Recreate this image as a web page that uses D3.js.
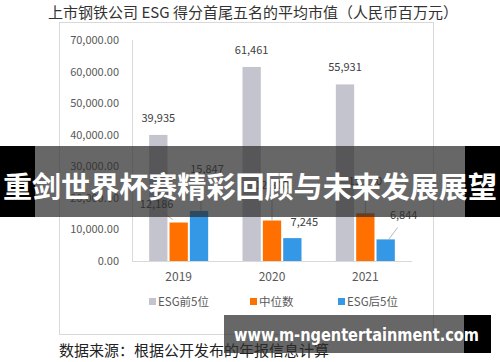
<!DOCTYPE html>
<html>
<head>
<meta charset="utf-8">
<script src="https://cdn.jsdelivr.net/npm/d3@7/dist/d3.min.js"></script>
<style>
  body { margin: 0; background: #fff; }
  text { font-family: "Noto Sans CJK SC", "Noto Sans", sans-serif; }
</style>
</head>
<body>
<div class="vis"></div>
<script>
const years = ["2019", "2020", "2021"];
const seriesNames = ["ESG前5位", "中位数", "ESG后5位"];
const top5 = [39935, 61461, 55931];
const median = [12186, 12818, 15120];
const bottom5 = [15847, 7245, 6844];
const yTicks = [0, 10000, 20000, 30000, 40000, 50000, 60000, 70000];
const colors = ["#c4c4cf", "#ff7000", "#3498e6"];

const width = 500;
const height = 362;
const svg = d3.select(".vis").append("svg")
  .attr("width", width)
  .attr("height", height);

// title
svg.append("text")
  .attr("x", 253).attr("y", 18)
  .attr("text-anchor", "middle")
  .attr("font-size", 15)
  .attr("fill", "#333")
  .text("上市钢铁公司 ESG 得分首尾五名的平均市值（人民币百万元）");

// chart frame
svg.append("rect")
  .attr("x", 59.5).attr("y", 22.5)
  .attr("width", 374).attr("height", 312)
  .attr("fill", "none")
  .attr("stroke", "#d9d9d9");

const x = d3.scaleBand().domain(years).range([132, 412]);
const xs = d3.scaleBand().domain(d3.range(3)).range([0, 59]).paddingInner(0.1);
const y = d3.scaleLinear().domain([0, 70000]).range([261, 40]);

const g = svg.append("g");

// y labels
g.selectAll(".ytick").data(yTicks).enter().append("text")
  .attr("x", 119).attr("y", (d) => y(d) + 4)
  .attr("text-anchor", "end")
  .attr("font-size", 11)
  .attr("fill", "#595959")
  .text((d) => d3.format(",.2f")(d));

// axis lines
g.append("line")
  .attr("x1", 132.5).attr("x2", 132.5)
  .attr("y1", y(70000)).attr("y2", y(0))
  .attr("stroke", "#d9d9d9");
g.append("line")
  .attr("x1", 132).attr("x2", 412)
  .attr("y1", y(0) + 0.5).attr("y2", y(0) + 0.5)
  .attr("stroke", "#d9d9d9");

const series = [top5, median, bottom5];
const rows = [];
series.forEach((vals, s) => {
  vals.forEach((v, i) => rows.push({ s: s, year: years[i], i: i, v: v }));
});
const barX = (d) => x(years[d.i]) + (x.bandwidth() - 59) / 2 + xs(d.s);

g.selectAll(".bar").data(rows).enter().append("rect")
  .attr("x", barX)
  .attr("y", (d) => y(d.v))
  .attr("width", xs.bandwidth())
  .attr("height", (d) => y(0) - y(d.v))
  .attr("fill", (d) => colors[d.s]);

// data labels: offsets relative to bar top centre
const labelOffsets = [
  [[0, -13], [0, -13], [0, -13]],
  [[-22, -15], [0, -32], [0, -28]],
  [[8, -38], [12, -12], [18, -20]]
];
const leaders = [
  [null, null, null],
  [[-6, -3, -16, -10], [0, 0, 0, -28], [0, 0, 0, -24]],
  [[2, 0, 2, -28], null, [3, 0, 12, -12]]
];
rows.forEach((d) => {
  const cx = barX(d) + xs.bandwidth() / 2;
  const ty = y(d.v);
  const off = labelOffsets[d.s][d.i];
  const ld = leaders[d.s][d.i];
  if (ld) {
    g.append("line")
      .attr("x1", cx + ld[0]).attr("y1", ty + ld[1])
      .attr("x2", cx + ld[2]).attr("y2", ty + ld[3])
      .attr("stroke", "#a6a6a6").attr("stroke-width", 0.8);
  }
  g.append("text")
    .attr("x", cx + off[0]).attr("y", ty + off[1])
    .attr("text-anchor", "middle")
    .attr("font-size", 11)
    .attr("fill", "#404040")
    .text(d3.format(",")(d.v));
});

// x labels
g.selectAll(".xl").data(years).enter().append("text")
  .attr("x", (d) => x(d) + x.bandwidth() / 2)
  .attr("y", 281)
  .attr("text-anchor", "middle")
  .attr("font-size", 12)
  .attr("fill", "#595959")
  .text((d) => d);

// legend
const legendX = [149, 250, 338];
seriesNames.forEach((name, s) => {
  svg.append("rect")
    .attr("x", legendX[s]).attr("y", 298)
    .attr("width", 7).attr("height", 7)
    .attr("fill", colors[s]);
  svg.append("text")
    .attr("x", legendX[s] + 9).attr("y", 306)
    .attr("font-size", 11.5)
    .attr("fill", "#595959")
    .text(name);
});

// footer
svg.append("text")
  .attr("x", 59).attr("y", 356)
  .attr("font-size", 15)
  .attr("fill", "#222")
  .text("数据来源：根据公开发布的年报信息计算");

// banner overlay
svg.append("rect")
  .attr("x", 35).attr("y", 146).attr("width", 430).attr("height", 71)
  .attr("fill", "rgba(45,45,45,0.72)");
svg.append("rect")
  .attr("x", 0).attr("y", 146).attr("width", 35).attr("height", 71)
  .attr("fill", "#000");
svg.append("rect")
  .attr("x", 465).attr("y", 146).attr("width", 35).attr("height", 71)
  .attr("fill", "#000");
svg.append("text")
  .attr("x", 250).attr("y", 198)
  .attr("text-anchor", "middle")
  .attr("font-size", 29)
  .attr("font-weight", "bold")
  .attr("fill", "#fff")
  .attr("textLength", 494)
  .attr("lengthAdjust", "spacingAndGlyphs")
  .text("重剑世界杯赛精彩回顾与未来发展展望");

// watermark
svg.append("rect")
  .attr("x", 224).attr("y", 315).attr("width", 240).attr("height", 38)
  .attr("fill", "rgba(45,45,45,0.72)");
svg.append("rect")
  .attr("x", 464).attr("y", 315).attr("width", 27).attr("height", 38)
  .attr("fill", "#000");
svg.append("text")
  .attr("x", 234).attr("y", 341)
  .attr("font-size", 18)
  .attr("font-weight", "bold")
  .attr("fill", "#fff")
  .attr("textLength", 245)
  .attr("lengthAdjust", "spacingAndGlyphs")
  .style("font-family", "'DejaVu Sans', sans-serif")
  .text("www.m-ngentertainment.com");
</script>
</body>
</html>
